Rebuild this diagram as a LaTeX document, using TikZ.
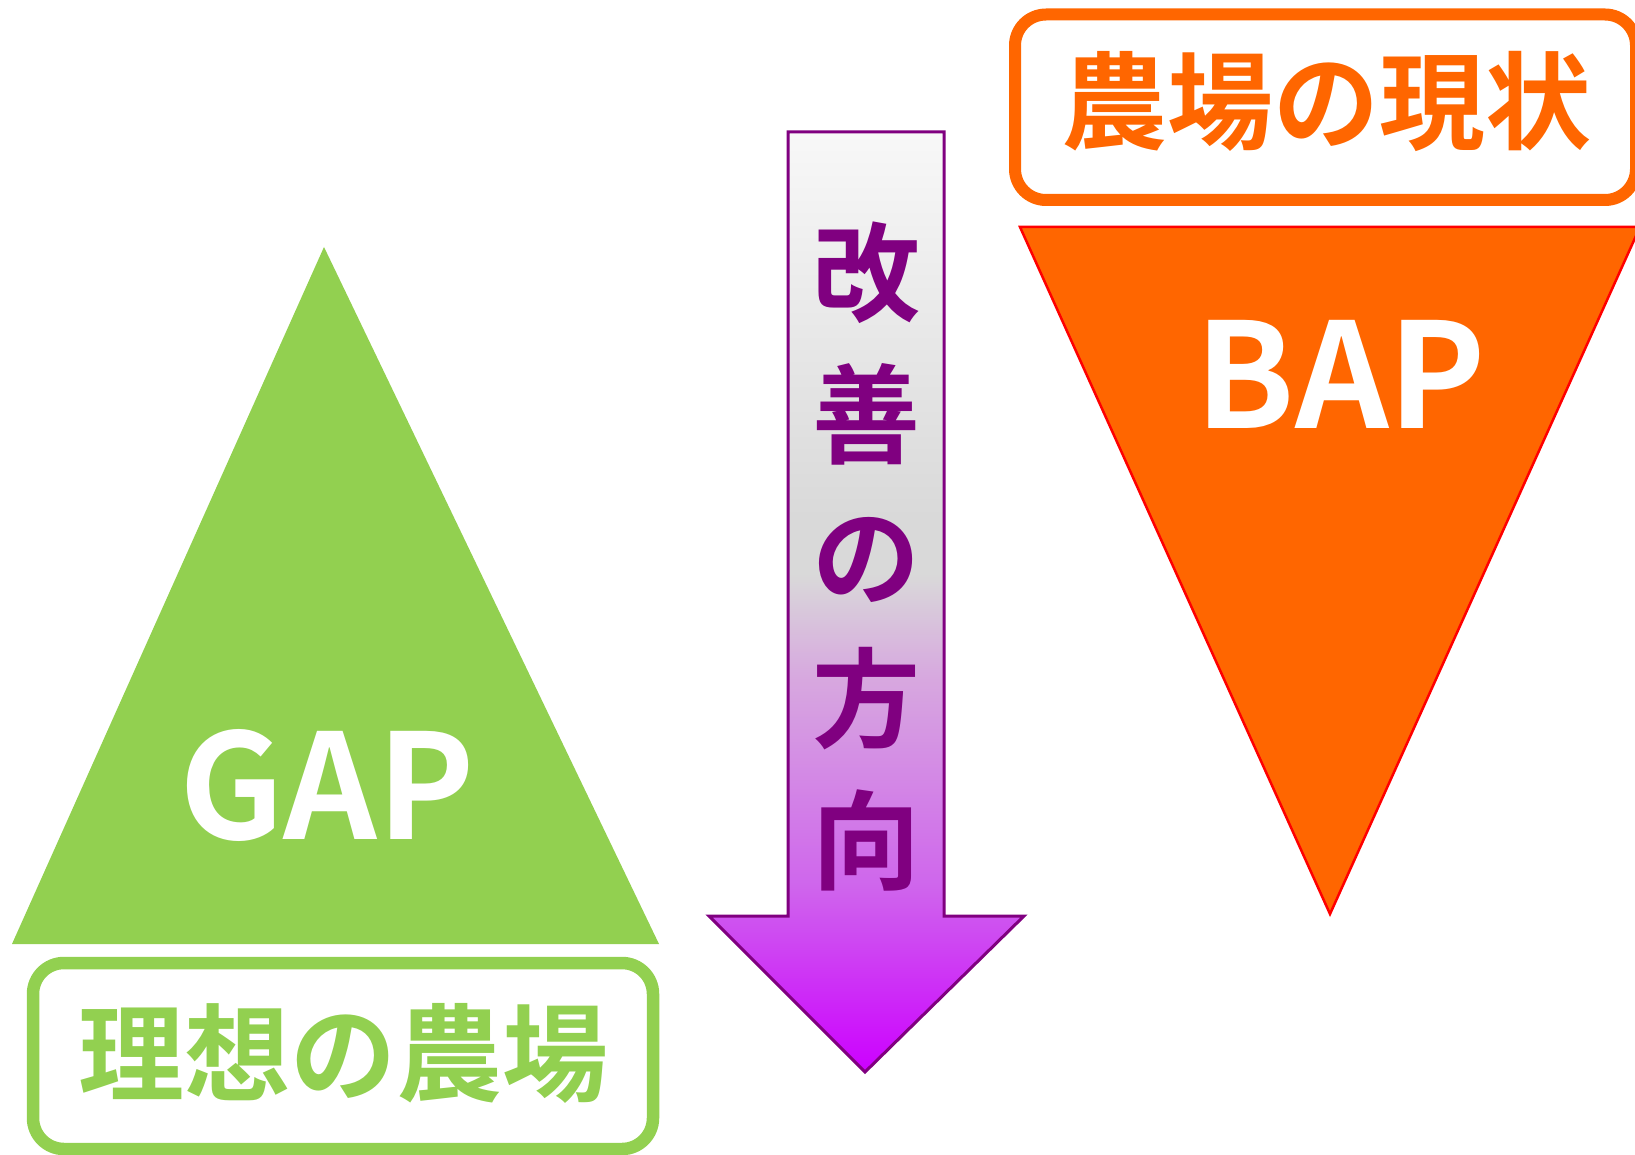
\documentclass[tikz,border=0pt]{standalone}
\usepackage{fontspec}
\newfontfamily\cjk{Noto Sans CJK JP}[BoldFont={* Bold}]
\definecolor{leaf}{HTML}{92D050}
\definecolor{flame}{HTML}{FF6600}
\definecolor{plum}{HTML}{800080}
\definecolor{shA}{HTML}{F8F8F8}
\definecolor{shB}{HTML}{D9D9D9}
\definecolor{shC}{HTML}{D7A8DF}
\definecolor{shD}{HTML}{CF66EC}
\definecolor{shE}{HTML}{CC00FF}
\pgfdeclareverticalshading{arrowshade}{100bp}{color(0bp)=(shE); color(25bp)=(shE); color(35bp)=(shD); color(46bp)=(shC); color(51.5bp)=(shB); color(54.5bp)=(shB); color(75bp)=(shA); color(100bp)=(shA)}
\tikzset{
  boxframe/.style={line width=12.5pt, rounded corners=31pt},
  bigword/.style={text=white, font=\cjk\bfseries\fontsize{146}{150}\selectfont, inner sep=0pt},
  boxword/.style={font=\cjk\bfseries\fontsize{106}{110}\selectfont, inner sep=0pt},
}
\begin{document}
\begin{tikzpicture}[x=1pt,y=-1pt]
\useasboundingbox (0,0) rectangle (1635,1155);
% green triangle
\fill[leaf] (324,247) -- (659,944) -- (12,944) -- cycle;
\node[bigword] (gap) at (327,785) {GAP};
% green box
\draw[leaf, boxframe] (33,963) rectangle (653,1149);
\node[boxword, text=leaf] (ideal) at (343,1053) {理想の農場};
% orange inverted triangle
\filldraw[fill=flame, draw=red, line width=2.5pt] (1020,227) -- (1640,227) -- (1330,914) -- cycle;
\node[bigword] (bap) at (1341,374) {BAP};
% orange box
\draw[flame, boxframe, line width=12pt] (1015,14.5) rectangle (1636,200);
\node[boxword, text=flame] (now) at (1326,101) {農場の現状};
% arrow
\draw[plum, line width=3pt, shading=arrowshade, line join=miter]
  (788,132) -- (944,132) -- (944,916) -- (1024,916) -- (865,1072) -- (709,916) -- (788,916) -- cycle;
\node[text=plum, font=\cjk\bfseries\fontsize{108}{142}\selectfont, align=center, inner sep=0pt] (dir) at (866,557) {改\\善\\の\\方\\向};
\end{tikzpicture}
\end{document}
